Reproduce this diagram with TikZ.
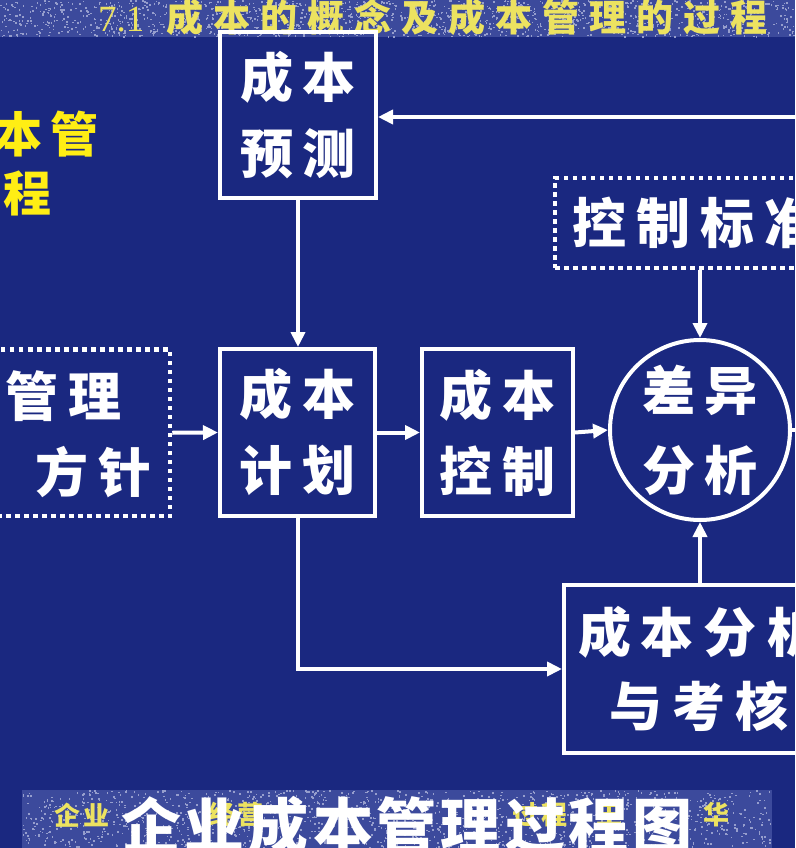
\documentclass[tikz,border=0pt]{standalone}
\usepackage{fontspec}
\usetikzlibrary{arrows.meta}
\newfontfamily\cjk{Noto Sans CJK SC}
\newfontfamily\latinserif{Liberation Serif}
\definecolor{bgblue}{RGB}{26,40,128}
\definecolor{bandblue}{RGB}{60,74,156}
\definecolor{speck}{RGB}{150,158,205}
\definecolor{titleyellow}{RGB}{236,226,96}
\definecolor{brightyellow}{RGB}{255,238,20}
\newcommand{\xg}{\hspace{10pt}}
\newcommand{\xt}{\hspace{10pt}}
\begin{document}
\begin{tikzpicture}[x=1pt,y=-1pt,
  solidbox/.style={draw=white, line width=4pt, rectangle, inner sep=0pt},
  dotbox/.style={draw=white, line width=4.5pt, dash pattern=on 4.5pt off 4.5pt, rectangle, inner sep=0pt},
  boxtext/.style={text=white, font=\cjk\bfseries\fontsize{53}{76}\selectfont, align=center},
  flow/.style={draw=white, line width=4pt, -{Triangle[length=15pt,width=14pt]}},
  plainline/.style={draw=white, line width=4pt},
  ytext/.style={text=brightyellow, font=\cjk\bfseries\fontsize{48}{56}\selectfont, inner sep=0pt},
  bandtext/.style={text=titleyellow, font=\cjk\bfseries\fontsize{26}{30}\selectfont, inner sep=0pt}
]
\useasboundingbox (0,0) rectangle (795,848);
\clip (0,0) rectangle (795,848);
\fill[bgblue] (0,0) rectangle (795,848);
% textured bands
\fill[bandblue] (0,0) rectangle (795,37);
\fill[bandblue] (22,790) rectangle (772,848);
\pgfmathsetseed{7}
\foreach \i in {1,...,1500} {
  \pgfmathsetmacro\sx{rnd*795}\pgfmathsetmacro\sy{rnd*36}
  \fill[speck] (\sx,\sy) rectangle ++(1.6,1.6);
}
\foreach \i in {1,...,1500} {
  \pgfmathsetmacro\sx{22+rnd*748}\pgfmathsetmacro\sy{790+rnd*57}
  \fill[speck] (\sx,\sy) rectangle ++(1.6,1.6);
}

% title
\node[anchor=west, text=titleyellow, inner sep=0pt, font=\cjk\bfseries\fontsize{37}{40}\selectfont] (title) at (98,17)
  {{\latinserif\mdseries 7.1}\hspace{22pt}成\xt 本\xt 的\xt 概\xt 念\xt 及\xt 成\xt 本\xt 管\xt 理\xt 的\xt 过\xt 程};

% yellow side heading
\node[ytext, anchor=east] (yt1) at (99,134) {成\hspace{8pt}本\hspace{8pt}管};
\node[ytext, anchor=east] (yt2) at (52,194) {理\hspace{8pt}过\hspace{8pt}程};

% boxes
\node[solidbox, boxtext, minimum width=156pt, minimum height=166pt] (yc) at (298,115) {成\xg 本\\预\xg 测};
\node[solidbox, boxtext, minimum width=155pt, minimum height=167pt] (jh) at (297.5,432.5) {成\xg 本\\计\xg 划};
\node[solidbox, boxtext, minimum width=151pt, minimum height=167pt] (kz) at (497.5,432.5) {成\xg 本\\控\xg 制};
\node[draw=white, line width=4pt, circle, inner sep=0pt, minimum size=180pt, boxtext, font=\cjk\bfseries\fontsize{53}{80}\selectfont] (cy) at (700,430) {差\xg 异\\分\xg 析};
\node[dotbox, boxtext, font=\cjk\bfseries\fontsize{54}{60}\selectfont, minimum width=281pt, minimum height=90pt] (bz) at (695.5,223) {控\xg 制\xg 标\xg 准};
\node[dotbox, minimum width=200pt, minimum height=166.5pt] (gl) at (70,432.75) {};
\node[boxtext, align=left, anchor=west, inner sep=0pt] (gltext) at (5,434) {管\xg 理\\\hspace*{30pt}方\xg 针};
\node[solidbox, boxtext, font=\cjk\bfseries\fontsize{53}{74}\selectfont, minimum width=270pt, minimum height=168pt] (fx) at (699,669) {成\xg 本\xg 分\xg 析\\与\xg 考\xg 核};

% connectors
\coordinate (fbin) at (830,117);
\coordinate (fbout) at (830,430);
\draw[flow] (fbin) -- (yc.east |- fbin);
\draw[flow] (yc.south) -- (yc.south |- jh.north);
\draw[flow] (bz.south -| cy.north) -- (cy.north);
\draw[flow] (gl.east) -- (jh.west);
\draw[flow] (jh.east) -- (kz.west);
\draw[flow] (kz.east) -- (cy.west);
\draw[flow] (jh.south) |- (fx.west);
\draw[flow] (fx.north -| cy.south) -- (cy.south);
\draw[plainline] (cy.east) -- (fbout);

% bottom caption
\node[bandtext] (b1) at (82,815) {企\hspace{4pt}业};
\node[bandtext] (b2) at (236,815) {经\hspace{4pt}营};
\node[bandtext] (b3) at (540,815) {过\hspace{4pt}程};
\node[bandtext] (b4) at (609,815) {王};
\node[bandtext] (b5) at (716,815) {华};
\node[text=white, inner sep=0pt, font=\cjk\bfseries\fontsize{60}{64}\selectfont] (cap) at (407,826)
  {企\hspace{4pt}业\hspace{4pt}成\hspace{4pt}本\hspace{4pt}管\hspace{4pt}理\hspace{4pt}过\hspace{4pt}程\hspace{4pt}图};
\end{tikzpicture}
\end{document}
